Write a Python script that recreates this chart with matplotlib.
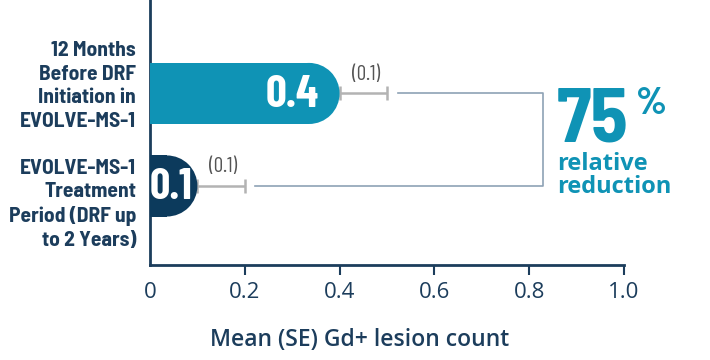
import matplotlib
matplotlib.use("Agg")
import matplotlib.pyplot as plt
from matplotlib.patches import Ellipse

# Data
labels = ["12 Months\nBefore DRF\nInitiation in\nEVOLVE-MS-1",
          "EVOLVE-MS-1\nTreatment\nPeriod (DRF up\nto 2 Years)"]
means = [0.4, 0.1]
se = [0.1, 0.1]
reduction = "75"
xticks = [0, 0.2, 0.4, 0.6, 0.8, 1.0]
xtick_labels = ["0", "0.2", "0.4", "0.6", "0.8", "1.0"]

navy = "#1c3d5c"
teal = "#0f93b5"
bar_colors = [teal, "#0c3a5c"]
cond = ["Barlow Semi Condensed", "DejaVu Sans"]
narrow = ["Barlow Condensed", "DejaVu Sans"]

fig = plt.figure(figsize=(7.1, 3.6), dpi=100)
ax = fig.add_axes([150 / 710, 1 - 265 / 360, 474 / 710, 265 / 360])
ax.set_xlim(0, 1.0)
ax.set_ylim(-0.854, 2.01)

ypos = [1, 0]
h = 0.66

# radius of the rounded bar end, in x data units
ax_w_px = 474
ax_h_px = 265
px_per_y = ax_h_px / (2.01 + 0.854)
r_x = (h / 2 * px_per_y) / ax_w_px

for y, v, c in zip(ypos, means, bar_colors):
    ax.barh(y, v - r_x, height=h, color=c, linewidth=0, zorder=3)
    ax.add_patch(Ellipse((v - r_x, y), 2 * r_x, h, color=c, linewidth=0, zorder=3))

# one-sided error bars
ax.errorbar(means, ypos, xerr=[[0, 0], se], fmt="none", ecolor="#b3b3b3",
            elinewidth=1.8, capsize=4.8, capthick=1.8, zorder=2)

# value labels inside bars and SE labels
for y, v, s in zip(ypos, means, se):
    if v > 0.2:
        ax.text(v - 0.045, y - 0.02, f"{v:.1f}", ha="right", va="center", color="white",
                fontsize=33, fontweight="bold", family=narrow, zorder=4)
    else:
        ax.text(0.045, y - 0.02, f"{v:.1f}", ha="center", va="center", color="white",
                fontsize=32, fontweight="bold", family=narrow, zorder=4)
    ax.text(v + s / 2 + 0.005, y + 0.21, f"({s:.1f})", ha="center", va="center",
            color="#555555", fontsize=15, family=narrow)

# bracket connecting the two error bars
x_top = means[0] + se[0] + 0.023
x_bot = means[1] + se[1] + 0.022
x_right = 0.829
ax.plot([x_top, x_right, x_right, x_bot], [ypos[0], ypos[0], ypos[1], ypos[1]],
        color="#8ea2b5", lw=1.2, zorder=1)

# relative reduction annotation
fig.text(557 / 710, 1 - 142 / 360, reduction, color=teal, fontsize=55,
         fontweight="bold", family=cond, ha="left", va="baseline")
fig.text(636 / 710, 1 - 114 / 360, "%", color=teal, fontsize=28,
         fontweight="bold", family=cond, ha="left", va="baseline")
fig.text(557 / 710, 1 - 193 / 360, "relative\nreduction", color=teal,
         fontsize=17, fontweight="bold", family="Open Sans", ha="left",
         va="baseline", linespacing=0.92)

# axes styling
for side in ["top", "right"]:
    ax.spines[side].set_visible(False)
for side in ["left", "bottom"]:
    ax.spines[side].set_color(navy)
    ax.spines[side].set_linewidth(2)

# category labels sit slightly off the bar centres, as in the reference
ax.set_yticks([ypos[0] + 0.125, ypos[1] - 0.15])
ax.set_yticklabels(labels, fontsize=15.5, fontweight="bold", family=cond,
                   color=navy, linespacing=1.3, ha="right", multialignment="right")
ax.tick_params(axis="y", length=0, pad=10)

ax.set_xticks(xticks)
ax.set_xticklabels(xtick_labels, fontsize=16, family="Open Sans", color=navy)
ax.tick_params(axis="x", length=7, width=1.5, color=navy, pad=5)
ax.xaxis.get_major_ticks()[0].tick1line.set_visible(False)

ax.set_xlabel("Mean (SE) Gd+ lesion count", fontsize=16.5, fontweight="semibold",
              family="Open Sans", color=navy)
ax.xaxis.set_label_coords((360 - 150) / 474, -(328 - 265) / 265)

fig.savefig("out.png", dpi=100)
